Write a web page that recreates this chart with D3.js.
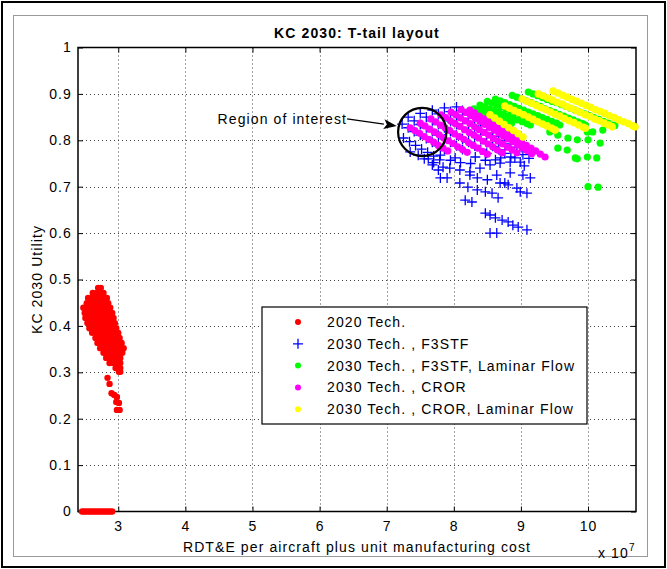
<!DOCTYPE html>
<html><head><meta charset="utf-8">
<script src="https://cdn.jsdelivr.net/npm/d3@7"></script>
<style>
body{margin:0;background:#fff}
text{font-family:"Liberation Sans",Arial,Helvetica,sans-serif;fill:#000}
</style>
</head><body>
<svg id="chart" width="667" height="569"></svg>
<script>
// ---------- data (x in units of 1e7) ----------
const xTicks = [3,4,5,6,7,8,9,10];
const xTickLabels = ["3","4","5","6","7","8","9","10"];
const yTicks = [0,0.1,0.2,0.3,0.4,0.5,0.6,0.7,0.8,0.9,1];
const yTickLabels = ["0","0.1","0.2","0.3","0.4","0.5","0.6","0.7","0.8","0.9","1"];
const seriesNames = ["2020 Tech.","2030 Tech. , F3STF","2030 Tech. , F3STF, Laminar Flow","2030 Tech. , CROR","2030 Tech. , CROR, Laminar Flow"];
const seriesColors = ["#ff0000","#0000ff","#00ff00","#ff00ff","#ffff00"];
const seriesMarkers = ["dot","plus","dot","dot","dot"];
const titleText = "KC 2030: T-tail layout";
const xLabel = "RDT&E per aircraft plus unit manufacturing cost";
const yLabel = "KC 2030 Utility";
const annotationText = "Region of interest";
const annotationFrom = [6.41,0.846];
const annotationTo = [7.15,0.831];
const roiCenter = [7.53,0.818];
const roiRadius = [0.36,0.052];

const tech2020 = [
[2.70,0.482],[2.74,0.482],
[2.62,0.471],[2.68,0.471],[2.74,0.471],[2.78,0.471],
[2.55,0.460],[2.61,0.460],[2.67,0.460],[2.73,0.460],[2.79,0.460],[2.83,0.460],
[2.53,0.449],[2.59,0.449],[2.65,0.449],[2.71,0.449],[2.77,0.449],[2.83,0.449],[2.85,0.449],
[2.48,0.439],[2.54,0.439],[2.60,0.439],[2.66,0.439],[2.72,0.439],[2.78,0.439],[2.84,0.439],[2.88,0.439],
[2.50,0.428],[2.56,0.428],[2.62,0.428],[2.68,0.428],[2.74,0.428],[2.80,0.428],[2.86,0.428],[2.91,0.428],
[2.51,0.417],[2.57,0.417],[2.63,0.417],[2.69,0.417],[2.75,0.417],[2.81,0.417],[2.87,0.417],[2.93,0.417],
[2.54,0.406],[2.60,0.406],[2.66,0.406],[2.72,0.406],[2.78,0.406],[2.84,0.406],[2.90,0.406],[2.95,0.406],
[2.57,0.395],[2.63,0.395],[2.69,0.395],[2.75,0.395],[2.81,0.395],[2.87,0.395],[2.93,0.395],[2.97,0.395],
[2.61,0.385],[2.67,0.385],[2.73,0.385],[2.79,0.385],[2.85,0.385],[2.91,0.385],[2.97,0.385],[3.00,0.385],
[2.66,0.374],[2.72,0.374],[2.78,0.374],[2.84,0.374],[2.90,0.374],[2.96,0.374],[3.02,0.374],
[2.69,0.363],[2.75,0.363],[2.81,0.363],[2.87,0.363],[2.93,0.363],[2.99,0.363],[3.05,0.363],
[2.73,0.352],[2.79,0.352],[2.85,0.352],[2.91,0.352],[2.97,0.352],[3.03,0.352],[3.08,0.352],
[2.78,0.342],[2.84,0.342],[2.90,0.342],[2.96,0.342],[3.02,0.342],[3.06,0.342],
[2.82,0.331],[2.88,0.331],[2.94,0.331],[3.00,0.331],[3.03,0.331],
[2.87,0.320],[2.93,0.320],[2.99,0.320],[3.03,0.320],
[2.96,0.309],[3.00,0.309],[3.03,0.309],
[3.01,0.301],[3.03,0.301],
[2.84,0.288],[2.87,0.275],[2.90,0.255],[2.94,0.251],[2.98,0.247],[2.97,0.236],[3.01,0.234],[2.98,0.219],[3.02,0.219],
[2.46,0],[2.49,0],[2.52,0],[2.55,0],[2.58,0],[2.61,0],[2.64,0],[2.67,0],[2.70,0],[2.73,0],[2.76,0],[2.79,0],[2.82,0],[2.85,0],[2.88,0],[2.91,0]
];

const f3stf = [
[7.23,0.835],[7.32,0.827],[7.41,0.819],[7.50,0.811],[7.59,0.804],[7.68,0.796],[7.77,0.788],[7.86,0.780],
[7.25,0.805],[7.34,0.797],[7.43,0.789],[7.52,0.781],[7.61,0.774],[7.70,0.766],[7.79,0.758],
[7.32,0.850],[7.41,0.842],[7.50,0.834],[7.59,0.827],[7.68,0.819],[7.77,0.811],[7.86,0.803],[7.95,0.796],[8.04,0.788],[8.13,0.780],
[7.50,0.858],[7.59,0.850],[7.68,0.842],[7.77,0.834],[7.86,0.827],[7.95,0.819],[8.04,0.811],[8.13,0.803],[8.22,0.796],[8.31,0.788],[8.40,0.780],[8.49,0.772],
[7.68,0.865],[7.77,0.857],[7.86,0.849],[7.95,0.842],[8.04,0.834],[8.13,0.826],[8.22,0.818],[8.31,0.811],[8.40,0.803],[8.49,0.795],[8.58,0.787],[8.67,0.780],[8.76,0.772],[8.85,0.764],
[7.86,0.870],[7.95,0.862],[8.04,0.854],[8.13,0.847],[8.22,0.839],[8.31,0.831],[8.40,0.823],[8.49,0.816],[8.58,0.808],[8.67,0.800],[8.76,0.792],[8.85,0.785],[8.94,0.777],[9.03,0.769],[9.12,0.761],
[8.04,0.872],[8.13,0.864],[8.22,0.856],[8.31,0.849],[8.40,0.841],[8.49,0.833],[8.58,0.825],[8.67,0.818],[8.76,0.810],[8.85,0.802],[8.94,0.794],[9.03,0.787],[9.12,0.779],
[7.35,0.775],[7.47,0.768],[7.56,0.760],
[7.80,0.768],[8.02,0.762],[8.32,0.764],[8.62,0.758],[8.91,0.762],[7.62,0.760],[7.70,0.752],[7.68,0.747],[7.77,0.736],
[7.95,0.757],[8.10,0.752],[8.25,0.750],[8.47,0.757],[8.70,0.762],[9.05,0.745],
[7.84,0.742],[7.94,0.740],[8.09,0.736],[8.24,0.732],[8.39,0.740],[8.54,0.747],[8.69,0.751],[8.84,0.753],[8.99,0.753],
[7.80,0.719],[7.90,0.719],[8.24,0.725],[8.35,0.719],[8.50,0.715],[8.64,0.725],[8.69,0.708],[8.84,0.730],[9.03,0.725],[9.14,0.719],
[8.09,0.708],[8.21,0.699],[8.35,0.693],[8.47,0.689],[8.57,0.686],[8.66,0.676],[8.76,0.708],[8.81,0.704],[8.94,0.697],[8.99,0.689],[9.09,0.686],
[8.17,0.671],[8.27,0.667],
[8.47,0.643],[8.54,0.639],[8.62,0.633],[8.72,0.628],[8.81,0.624],[8.88,0.617],[8.96,0.613],[9.09,0.607],
[8.54,0.600],[8.64,0.600]
];

const f3stfLaminar = [
[8.21,0.861],[8.28,0.857],[8.35,0.853],[8.42,0.849],[8.49,0.845],[8.56,0.841],[8.63,0.837],[8.69,0.833],
[8.30,0.868],[8.37,0.864],[8.44,0.860],[8.51,0.856],[8.58,0.852],[8.65,0.848],[8.72,0.844],[8.79,0.840],[8.86,0.837],
[8.39,0.876],[8.46,0.872],[8.53,0.868],[8.60,0.864],[8.67,0.860],[8.74,0.856],[8.81,0.852],[8.88,0.848],[8.95,0.844],[9.02,0.840],[9.09,0.836],[9.14,0.833],
[8.50,0.884],[8.57,0.880],[8.64,0.876],[8.71,0.872],[8.78,0.868],[8.85,0.864],[8.92,0.860],[8.99,0.856],[9.06,0.852],[9.13,0.848],[9.20,0.844],[9.27,0.840],[9.34,0.836],
[8.62,0.889],[8.69,0.885],[8.76,0.881],[8.83,0.877],[8.90,0.873],[8.97,0.869],[9.04,0.865],[9.11,0.861],[9.18,0.857],[9.25,0.853],[9.32,0.849],[9.39,0.845],[9.46,0.841],[9.53,0.837],[9.58,0.833],
[8.87,0.897],[8.94,0.893],[9.01,0.889],[9.08,0.885],[9.15,0.881],[9.22,0.877],[9.29,0.873],[9.36,0.868],[9.43,0.864],[9.50,0.860],[9.57,0.856],[9.64,0.852],[9.71,0.848],[9.78,0.844],[9.85,0.840],[9.92,0.836],[9.96,0.833],
[9.11,0.904],[9.18,0.900],[9.25,0.896],[9.32,0.892],[9.39,0.888],[9.46,0.884],[9.53,0.881],[9.60,0.877],[9.67,0.873],[9.74,0.869],[9.81,0.865],[9.88,0.861],[9.95,0.857],[10.02,0.853],[10.09,0.849],[10.16,0.845],[10.23,0.841],[10.30,0.837],[10.37,0.833],[10.40,0.832],
[9.43,0.818],[9.55,0.811],[9.70,0.805],[9.84,0.801],[9.99,0.818],[10.07,0.818],[10.22,0.822],
[9.55,0.783],[9.69,0.779],[9.81,0.762],[9.99,0.764],[10.13,0.762],[10.18,0.794],[10.00,0.801],[9.84,0.760],
[10.00,0.700],[10.15,0.699]
];

const cror = [
[7.35,0.827],[7.42,0.821],[7.49,0.815],[7.56,0.808],[7.63,0.802],[7.70,0.796],[7.77,0.789],[7.84,0.783],[7.91,0.777],
[7.50,0.837],[7.57,0.831],[7.64,0.824],[7.71,0.818],[7.78,0.812],[7.85,0.805],[7.92,0.799],[7.99,0.793],[8.06,0.786],[8.13,0.780],[8.20,0.774],
[7.66,0.846],[7.73,0.840],[7.80,0.833],[7.87,0.827],[7.94,0.821],[8.01,0.814],[8.08,0.808],[8.15,0.802],[8.22,0.795],[8.29,0.789],[8.36,0.783],[8.43,0.776],[8.50,0.770],
[7.81,0.855],[7.88,0.849],[7.95,0.842],[8.02,0.836],[8.09,0.830],[8.16,0.823],[8.23,0.817],[8.30,0.811],[8.37,0.805],[8.44,0.798],[8.51,0.792],[8.58,0.786],[8.65,0.779],[8.72,0.773],
[7.96,0.861],[8.03,0.855],[8.10,0.848],[8.17,0.842],[8.24,0.836],[8.31,0.829],[8.38,0.823],[8.45,0.817],[8.52,0.811],[8.59,0.804],[8.66,0.798],[8.73,0.792],[8.80,0.785],[8.87,0.779],[8.94,0.773],
[8.11,0.866],[8.18,0.860],[8.25,0.853],[8.32,0.847],[8.39,0.841],[8.46,0.834],[8.53,0.828],[8.60,0.822],[8.67,0.816],[8.74,0.809],[8.81,0.803],[8.88,0.797],[8.95,0.790],[9.02,0.784],[9.09,0.778],[9.16,0.771],
[8.24,0.865],[8.31,0.859],[8.38,0.852],[8.45,0.846],[8.52,0.840],[8.59,0.833],[8.66,0.827],[8.73,0.821],[8.80,0.815],[8.87,0.808],[8.94,0.802],[9.01,0.796],[9.08,0.789],[9.15,0.783],[9.22,0.777],[9.29,0.770],[9.36,0.764]
];

const crorLaminar = [
[8.54,0.855],[8.61,0.848],[8.68,0.841],[8.75,0.834],[8.82,0.827],[8.89,0.821],[8.96,0.814],[9.03,0.807],
[8.76,0.874],[8.83,0.869],[8.90,0.864],[8.97,0.860],[9.04,0.855],[9.11,0.850],[9.18,0.845],[9.25,0.840],[9.32,0.835],[9.39,0.831],[9.46,0.826],[9.51,0.822],
[9.02,0.889],[9.09,0.884],[9.16,0.880],[9.23,0.875],[9.30,0.870],[9.37,0.866],[9.44,0.861],[9.51,0.856],[9.58,0.852],[9.65,0.847],[9.72,0.842],[9.79,0.838],[9.86,0.833],[9.93,0.828],[9.96,0.826],
[9.26,0.900],[9.33,0.896],[9.40,0.891],[9.47,0.887],[9.54,0.882],[9.61,0.878],[9.68,0.873],[9.75,0.869],[9.82,0.864],[9.89,0.860],[9.96,0.855],[10.03,0.851],[10.10,0.846],[10.17,0.842],[10.24,0.837],[10.31,0.833],[10.36,0.829],
[9.48,0.906],[9.55,0.902],[9.62,0.897],[9.69,0.893],[9.76,0.888],[9.83,0.884],[9.90,0.880],[9.97,0.875],[10.04,0.871],[10.11,0.866],[10.18,0.862],[10.25,0.858],[10.32,0.853],[10.39,0.849],[10.46,0.844],[10.53,0.840],[10.60,0.836],[10.67,0.831],[10.70,0.829]
];

const allSeries = [tech2020, f3stf, f3stfLaminar, cror, crorLaminar];

// ---------- drawing ----------
const svg = d3.select("#chart");
const W = 667, H = 569;
const plot = {left:78, right:636, top:47.5, bottom:511.5};
const x = d3.scaleLinear().domain([2.4, 10.715]).range([plot.left, plot.right]);
const y = d3.scaleLinear().domain([0, 1]).range([plot.bottom, plot.top]);
const FONT = 14, LS = "1.1px";
const dotR = [3.2, 0, 3.6, 3.6, 3.8];

svg.append("rect").attr("width",W).attr("height",H).attr("fill","#fff");
// figure frames
svg.append("rect").attr("x",2).attr("y",2).attr("width",W-4).attr("height",H-4)
  .attr("fill","none").attr("stroke","#000").attr("stroke-width",2);
svg.append("rect").attr("x",13.5).attr("y",15.5).attr("width",634).attr("height",541)
  .attr("fill","none").attr("stroke","#999").attr("stroke-width",1);

// grid
const grid = svg.append("g").attr("stroke","#444").attr("stroke-width",1).attr("stroke-dasharray","1,3");
grid.selectAll("line.gx").data(xTicks).join("line")
  .attr("x1",d=>Math.round(x(d))+0.5).attr("x2",d=>Math.round(x(d))+0.5)
  .attr("y1",plot.top).attr("y2",plot.bottom);
grid.selectAll("line.gy").data(yTicks.filter(d=>d>0&&d<1)).join("line")
  .attr("y1",d=>Math.round(y(d))+0.5).attr("y2",d=>Math.round(y(d))+0.5)
  .attr("x1",plot.left).attr("x2",plot.right);

// axes
function styleAxis(g){
  g.select(".domain").remove();
  g.selectAll(".tick line").attr("stroke","#000");
  g.selectAll(".tick text").attr("font-size",FONT).attr("letter-spacing",LS)
    .attr("font-family","Liberation Sans, Arial, sans-serif").attr("fill","#000");
}
svg.append("g").attr("transform",`translate(0,${plot.bottom})`)
  .call(d3.axisBottom(x).tickValues(xTicks).tickFormat((d,i)=>xTickLabels[i]).tickSize(-5).tickSizeOuter(0).tickPadding(10))
  .call(styleAxis);
svg.append("g").attr("transform",`translate(0,${plot.top})`)
  .call(d3.axisTop(x).tickValues(xTicks).tickFormat("").tickSize(-5).tickSizeOuter(0))
  .call(styleAxis);
svg.append("g").attr("transform",`translate(${plot.left},0)`)
  .call(d3.axisLeft(y).tickValues(yTicks).tickFormat((d,i)=>yTickLabels[i]).tickSize(-5).tickSizeOuter(0).tickPadding(6))
  .call(styleAxis);
svg.append("g").attr("transform",`translate(${plot.right},0)`)
  .call(d3.axisRight(y).tickValues(yTicks).tickFormat("").tickSize(-5).tickSizeOuter(0))
  .call(styleAxis);
svg.append("rect").attr("x",plot.left).attr("y",plot.top)
  .attr("width",plot.right-plot.left).attr("height",plot.bottom-plot.top)
  .attr("fill","none").attr("stroke","#000").attr("stroke-width",1.5);

// series
const plusPath = "M-5,0H5M0,-5V5";
allSeries.forEach((data,i)=>{
  const g = svg.append("g");
  if(seriesMarkers[i]==="plus"){
    g.selectAll("path").data(data).join("path")
      .attr("d",plusPath).attr("transform",d=>`translate(${x(d[0])},${y(d[1])})`)
      .attr("stroke",seriesColors[i]).attr("stroke-width",1.3).attr("fill","none");
  } else {
    g.selectAll("circle").data(data).join("circle")
      .attr("cx",d=>x(d[0])).attr("cy",d=>y(d[1])).attr("r",dotR[i])
      .attr("fill",seriesColors[i]);
  }
});

// annotation: circle + arrow + text
svg.append("ellipse").attr("cx",x(roiCenter[0])).attr("cy",y(roiCenter[1]))
  .attr("rx",x(roiCenter[0]+roiRadius[0])-x(roiCenter[0]))
  .attr("ry",y(roiCenter[1])-y(roiCenter[1]+roiRadius[1]))
  .attr("fill","none").attr("stroke","#000").attr("stroke-width",2.2);
const ax1=x(annotationFrom[0]), ay1=y(annotationFrom[1]), ax2=x(annotationTo[0]), ay2=y(annotationTo[1]);
const ang = Math.atan2(ay2-ay1, ax2-ax1);
const hl=13, hw=5;
const bx = ax2 - hl*Math.cos(ang), by = ay2 - hl*Math.sin(ang);
svg.append("line").attr("x1",ax1).attr("y1",ay1).attr("x2",bx).attr("y2",by)
  .attr("stroke","#000").attr("stroke-width",1.2);
svg.append("path").attr("d",`M${ax2},${ay2}L${bx+hw*Math.sin(ang)},${by-hw*Math.cos(ang)}L${bx+3*Math.cos(ang)},${by+3*Math.sin(ang)}L${bx-hw*Math.sin(ang)},${by+hw*Math.cos(ang)}Z`)
  .attr("fill","#000");
svg.append("text").attr("x",ax1).attr("y",ay1+5).attr("text-anchor","end")
  .attr("font-size",FONT).attr("letter-spacing",LS).text(annotationText);

// titles
svg.append("text").attr("x",(plot.left+plot.right)/2).attr("y",38).attr("text-anchor","middle")
  .attr("font-size",FONT).attr("font-weight","bold").attr("letter-spacing",LS).text(titleText);
svg.append("text").attr("x",(plot.left+plot.right)/2).attr("y",552).attr("text-anchor","middle")
  .attr("font-size",FONT).attr("letter-spacing",LS).text(xLabel);
svg.append("text").attr("transform",`translate(42,${(plot.top+plot.bottom)/2}) rotate(-90)`)
  .attr("text-anchor","middle").attr("font-size",FONT).attr("letter-spacing",LS).text(yLabel);
const mult = svg.append("text").attr("x",598).attr("y",558).attr("font-size",FONT).attr("letter-spacing",LS);
mult.append("tspan").text("x 10");
mult.append("tspan").attr("dy",-7).attr("font-size",10).text("7");

// legend
const lg = svg.append("g").attr("transform","translate(262,307)");
lg.append("rect").attr("width",325).attr("height",117).attr("fill","#fff").attr("stroke","#000").attr("stroke-width",1.2);
seriesNames.forEach((name,i)=>{
  const ly = 15 + i*21.8;
  if(seriesMarkers[i]==="plus"){
    lg.append("path").attr("d",plusPath).attr("transform",`translate(36,${ly})`)
      .attr("stroke",seriesColors[i]).attr("stroke-width",1.3);
  } else {
    lg.append("circle").attr("cx",36).attr("cy",ly).attr("r",3).attr("fill",seriesColors[i]);
  }
  lg.append("text").attr("x",65).attr("y",ly+5).attr("font-size",FONT).attr("letter-spacing",LS).text(name);
});
</script>
</body></html>
